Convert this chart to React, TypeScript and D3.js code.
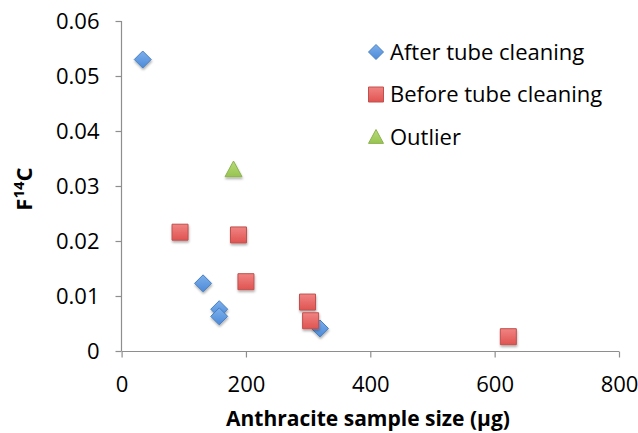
import React, { useRef, useEffect } from 'react';
import * as d3 from 'd3';

// Anthracite blanks: sample size (µg) vs F14C
const afterSize = [34, 131, 157, 157, 319];
const afterF14C = [0.053, 0.0123, 0.0076, 0.0063, 0.0041];

const beforeSize = [94, 188, 200, 299, 304, 622];
const beforeF14C = [0.0216, 0.0211, 0.0126, 0.0089, 0.0055, 0.0026];

const outlierSize = [180];
const outlierF14C = [0.033];

const xTicks = [0, 200, 400, 600, 800];
const yTicks = [0, 0.01, 0.02, 0.03, 0.04, 0.05, 0.06];

const seriesNames = ['After tube cleaning', 'Before tube cleaning', 'Outlier'];

const FONT = '"Open Sans", Lato, sans-serif';

const App: React.FC = () => {
  const svgRef = useRef<SVGSVGElement | null>(null);

  useEffect(() => {
    if (!svgRef.current) return;
    const width = 638;
    const height = 433;

    const svg = d3.select(svgRef.current).attr('width', width).attr('height', height);
    svg.selectAll('*').remove();

    // gradients + shadow like the old Excel markers
    const defs = svg.append('defs');
    const grad = (id: string, top: string, bottom: string) => {
      const g = defs
        .append('linearGradient')
        .attr('id', id)
        .attr('x1', 0)
        .attr('y1', 0)
        .attr('x2', 0)
        .attr('y2', 1);
      g.append('stop').attr('offset', '0%').attr('stop-color', top);
      g.append('stop').attr('offset', '100%').attr('stop-color', bottom);
    };
    grad('gBlue', '#7db0ec', '#4d8ad8');
    grad('gRed', '#f08482', '#df5452');
    grad('gGreen', '#b7dc78', '#98c452');
    const shadow = defs.append('filter').attr('id', 'shadow').attr('x', '-50%').attr('y', '-50%').attr('width', '200%').attr('height', '200%');
    shadow
      .append('feDropShadow')
      .attr('dx', 0.5)
      .attr('dy', 2)
      .attr('stdDeviation', 1.2)
      .attr('flood-color', '#000')
      .attr('flood-opacity', 0.3);

    const x = d3.scaleLinear().domain([0, 800]).range([121.6, 619]);
    const y = d3.scaleLinear().domain([0, 0.06]).range([351, 21]);

    // Y axis
    const yAxis = svg
      .append('g')
      .attr('transform', `translate(${x(0) - 0.1},0)`)
      .call(
        d3
          .axisLeft(y)
          .tickValues(yTicks)
          .tickSize(6)
          .tickPadding(16)
          .tickFormat(d => (d === 0 ? '0' : d3.format('.2f')(d as number)))
      );

    // X axis
    const xAxis = svg
      .append('g')
      .attr('transform', `translate(0,${y(0) + 0.5})`)
      .call(d3.axisBottom(x).tickValues(xTicks).tickSize(6).tickPadding(19).tickFormat(d3.format('d')));

    [yAxis, xAxis].forEach(a => {
      a.select('.domain').attr('stroke', '#8e8e8e').attr('stroke-width', 1.2);
      a.selectAll('.tick line').attr('stroke', '#8e8e8e').attr('stroke-width', 1.2);
      a.selectAll('.tick text')
        .attr('fill', '#000')
        .style('font-family', FONT)
        .style('font-size', '22px');
    });
    // match Excel: axis line has no outer ticks past the ends
    yAxis.select('.domain').attr('d', `M0,${y(0.06)}V${y(0)}`);
    xAxis.select('.domain').attr('d', `M${x(0)},0H${x(800)}`);

    // markers
    const diamond = (s: number) => `M0,${-s}L${s},0L0,${s}L${-s},0Z`;
    const square = (s: number) => `M${-s},${-s}H${s}V${s}H${-s}Z`;
    const triangle = (s: number) => `M0,${-s}L${s},${s * 0.85}H${-s}Z`;

    const plot = svg.append('g');

    plot
      .selectAll('.after')
      .data(afterSize.map((v, i) => [v, afterF14C[i]]))
      .enter()
      .append('path')
      .attr('d', diamond(8.5))
      .attr('transform', d => `translate(${x(d[0])},${y(d[1])})`)
      .attr('fill', 'url(#gBlue)')
      .attr('stroke', '#4a7fc1')
      .attr('stroke-width', 1)
      .attr('filter', 'url(#shadow)');

    plot
      .selectAll('.outlier')
      .data(outlierSize.map((v, i) => [v, outlierF14C[i]]))
      .enter()
      .append('path')
      .attr('d', triangle(8.5))
      .attr('transform', d => `translate(${x(d[0])},${y(d[1])})`)
      .attr('fill', 'url(#gGreen)')
      .attr('stroke', '#8db24f')
      .attr('stroke-width', 1)
      .attr('filter', 'url(#shadow)');

    plot
      .selectAll('.before')
      .data(beforeSize.map((v, i) => [v, beforeF14C[i]]))
      .enter()
      .append('path')
      .attr('d', square(8))
      .attr('transform', d => `translate(${x(d[0])},${y(d[1])})`)
      .attr('fill', 'url(#gRed)')
      .attr('stroke', '#c0504d')
      .attr('stroke-width', 1)
      .attr('filter', 'url(#shadow)');

    // Legend
    const legend = svg.append('g').attr('transform', 'translate(376,52)');
    const legendShapes = [
      { d: diamond(7.5), fill: 'url(#gBlue)', stroke: '#4a7fc1' },
      { d: square(7.5), fill: 'url(#gRed)', stroke: '#c0504d' },
      { d: triangle(7.5), fill: 'url(#gGreen)', stroke: '#8db24f' },
    ];
    seriesNames.forEach((name, i) => {
      const row = legend.append('g').attr('transform', `translate(0,${i * 42.5})`);
      row
        .append('path')
        .attr('d', legendShapes[i].d)
        .attr('fill', legendShapes[i].fill)
        .attr('stroke', legendShapes[i].stroke);
      row
        .append('text')
        .attr('x', 14)
        .attr('dy', '0.35em')
        .style('font-family', FONT)
        .style('font-size', '22px')
        .text(name);
    });

    // Axis titles
    svg
      .append('text')
      .attr('x', 368)
      .attr('y', 426)
      .attr('text-anchor', 'middle')
      .style('font-family', FONT)
      .style('font-size', '21px')
      .style('font-weight', 'bold')
      .text('Anthracite sample size (µg)');

    const yTitle = svg
      .append('text')
      .attr('transform', 'translate(32,189) rotate(-90)')
      .attr('text-anchor', 'middle')
      .style('font-family', FONT)
      .style('font-size', '22px')
      .style('font-weight', 'bold');
    yTitle.append('tspan').text('F');
    yTitle.append('tspan').attr('dy', -8).style('font-size', '15px').text('14');
    yTitle.append('tspan').attr('dy', 8).text('C');
  }, []);

  return (
    <svg
      ref={svgRef}
      style={{ position: 'absolute', left: 0, top: 0, background: '#fff' }}
    ></svg>
  );
};

export default App;
